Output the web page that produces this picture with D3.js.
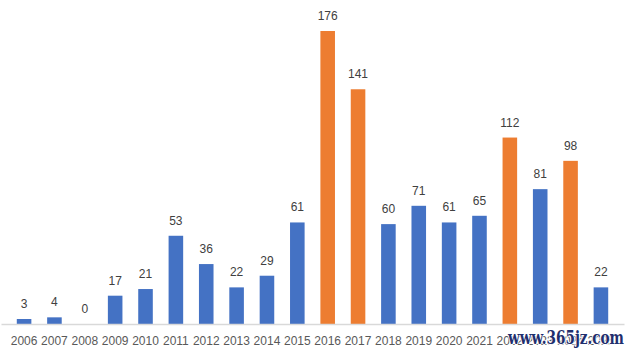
<!DOCTYPE html>
<html>
<head>
<meta charset="UTF-8">
<script src="https://d3js.org/d3.v7.min.js"></script>
<style>
  * { margin: 0; padding: 0; }
  body { background: #fff; font-family: "Liberation Sans", Arial, sans-serif; }
</style>
</head>
<body>
<div id="chart"></div>
<script>
const years = ["2006","2007","2008","2009","2010","2011","2012","2013","2014","2015",
               "2016","2017","2018","2019","2020","2021","2022","2023","2024","2025"];
const counts = [3, 4, 0, 17, 21, 53, 36, 22, 29, 61, 176, 141, 60, 71, 61, 65, 112, 81, 98, 22];
const highlighted = ["2016", "2017", "2022", "2024"];

const data = years.map((y, i) => ({year: y, value: counts[i]}));

const W = 632, H = 353;
const svg = d3.select("#chart").append("svg")
  .attr("width", W).attr("height", H);

const x = d3.scaleBand()
  .domain(years)
  .range([1, 624])
  .padding(0.52);

const y = d3.scaleLinear()
  .domain([0, 176])
  .range([324, 31]);

// bars
svg.selectAll(".bar")
  .data(data)
  .enter()
  .append("rect")
  .attr("class", "bar")
  .attr("x", d => x(d.year))
  .attr("y", d => y(d.value))
  .attr("width", x.bandwidth())
  .attr("height", d => y(0) - y(d.value))
  .attr("fill", d => highlighted.includes(d.year) ? "#ED7D31" : "#4472C4");

// axis
const axis = svg.append("g")
  .attr("transform", `translate(0,${y(0)})`)
  .call(d3.axisBottom(x).tickSize(0).tickPadding(12));
axis.select(".domain").attr("stroke", "#D9D9D9").attr("stroke-width", 1.5);
axis.selectAll("text")
  .attr("fill", "#595959")
  .style("font-size", "12px")
  .style("font-family", "'Liberation Sans', Arial, sans-serif");

// value labels
svg.selectAll(".label")
  .data(data)
  .enter()
  .append("text")
  .attr("x", d => x(d.year) + x.bandwidth() / 2)
  .attr("y", d => y(d.value) - 11)
  .attr("text-anchor", "middle")
  .attr("fill", "#404040")
  .style("font-size", "12px")
  .text(d => d.value);

// watermark
svg.append("text")
  .attr("x", 508)
  .attr("y", 344)
  .attr("textLength", 116)
  .attr("lengthAdjust", "spacingAndGlyphs")
  .attr("fill", "#1f2f6e")
  .attr("stroke", "#fff")
  .attr("stroke-width", 2)
  .attr("paint-order", "stroke")
  .style("font-family", "'DejaVu Serif', serif")
  .style("font-weight", "bold")
  .style("font-size", "18px")
  .text("www.365jz.com");
</script>
</body>
</html>
